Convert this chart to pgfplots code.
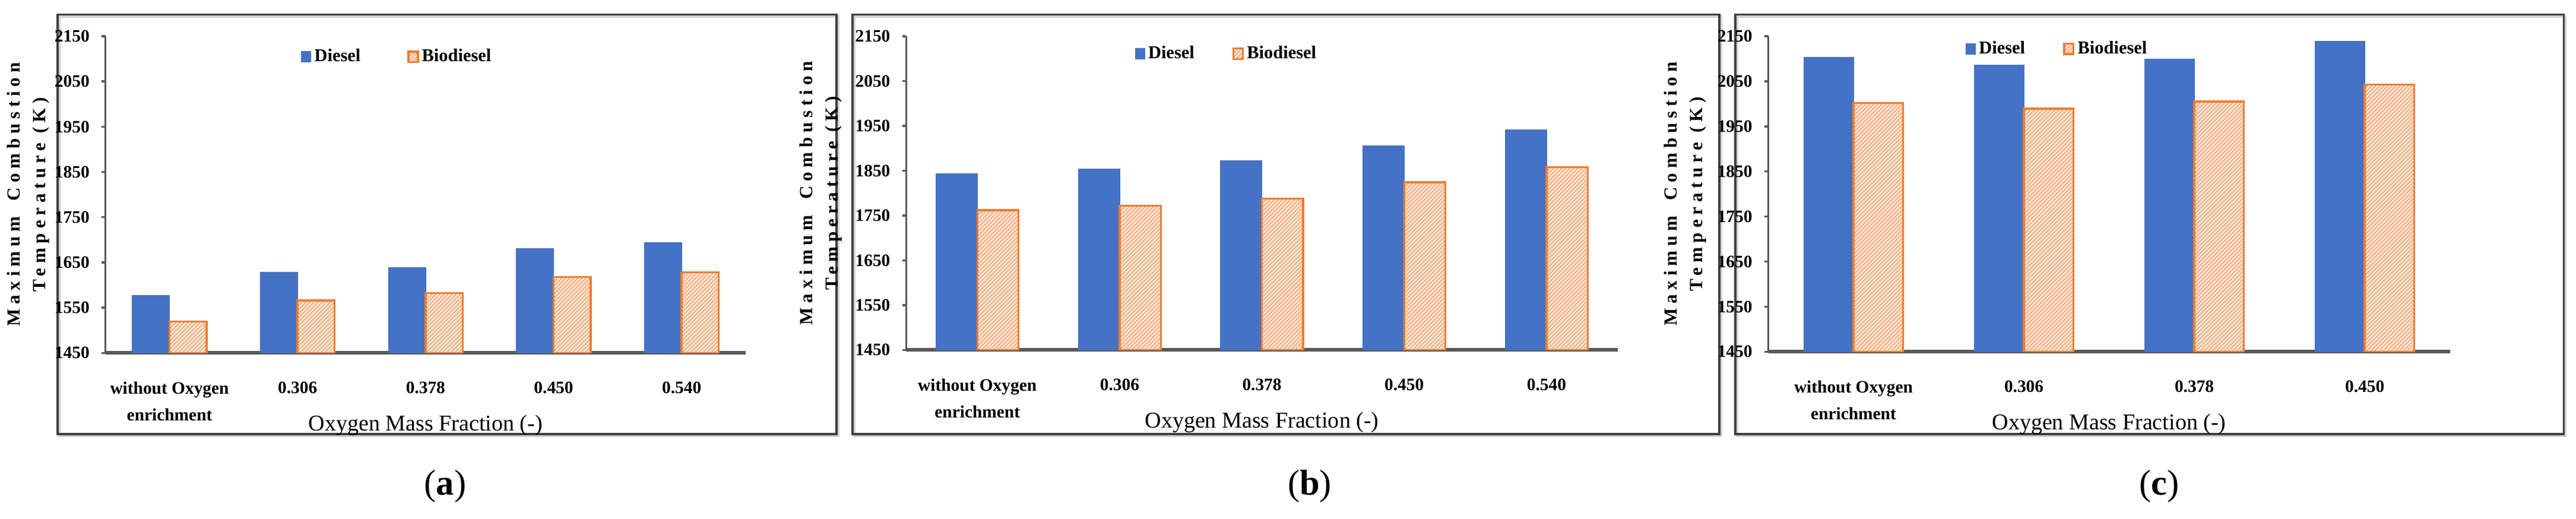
\documentclass[border=0pt]{standalone}
\usepackage{fontspec}
\setmainfont{Liberation Serif}
\newfontfamily\ylabfont[LetterSpace=25]{Liberation Serif}
\usepackage{pgfplots}
\pgfplotsset{compat=1.18}
\usetikzlibrary{patterns.meta}

\definecolor{dieselBlue}{HTML}{4472C4}
\definecolor{bioOr}{HTML}{ED7D31}
\definecolor{axGray}{HTML}{595959}

\pgfplotsset{
  tempbars/.style={
    scale only axis,
    axis lines=left,
    axis line style={-, axGray},
    x axis line style={line width=1.8pt},
    y axis line style={line width=1pt},
    ybar,
    bar width=0.29,
    ymin=1450, ymax=2150,
    ytick={1450,1550,...,2150},
    yticklabels={1450,1550,1650,1750,1850,1950,2050,2150},
    tick align=outside,
    major tick length=0.07cm,
    ytick style={axGray, line width=1pt},
    xtick style={draw=none},
    xtick=data,
    enlarge y limits=false,
    yticklabel style={font=\bfseries\fontsize{8.5}{10}\selectfont, xshift=-0.08cm},
    xticklabel style={font=\bfseries\fontsize{8.5}{10}\selectfont, align=center, anchor=north, yshift=-0.3cm},
    every axis x label/.style={at={(rel axis cs:0.5,0)}, anchor=center, yshift=-1.24cm,
      font=\fontsize{11}{13}\selectfont},
    every axis y label/.style={rotate=90, anchor=center, align=center,
      font=\ylabfont\bfseries\fontsize{9}{10}\selectfont},
    xlabel={Oxygen Mass Fraction (-)},
    ylabel={Maximum\hspace{0.35em} Combustion\\[2.5pt]Temperature (K)},
    legend columns=2,
    legend style={draw=none, fill=none, inner sep=0pt, anchor=west,
      font=\bfseries\fontsize{8.8}{10}\selectfont,
      nodes={inner sep=1.5pt}},
    legend image code/.code={\draw[##1] (0cm,-0.09cm) rectangle (0.16cm,0.09cm);},
  },
  diesel/.style={draw=dieselBlue, fill=dieselBlue, line width=0.4pt, bar shift=-0.145},
  bio/.style={draw=bioOr, line width=1pt, fill=bioOr!18,
    postaction={pattern color=bioOr!80, pattern={Lines[angle=45,distance=1.4pt,line width=0.4pt]}},
    bar shift=0.145},
}

\begin{document}
\begin{tikzpicture}
\path (0,0) rectangle (43.39,8.88);

% panel frames
\foreach \xa/\xb in {0.27/13.61, 13.88/28.72, 29.00/43.18}{
  \draw[gray!35, line width=1.2pt] (\xa+0.03,1.42) rectangle (\xb+0.03,8.60);
  \draw[black!75, line width=1.1pt] (\xa,1.45) rectangle (\xb,8.63);
}

% (a)
\begin{axis}[tempbars, at={(2.19cm,2.84cm)}, anchor=origin,
  width=10.96cm, height=5.42cm,
  xmin=-0.5, xmax=4.5,
  xticklabels={{without Oxygen\\[3pt]enrichment},0.306,0.378,0.450,0.540},
  ylabel style={at={(rel axis cs:-0.121,0.5)}},
  legend style={at={(rel axis cs:0.305,0.935)},
    /tikz/every even column/.append style={column sep=0.75cm}}]
\addplot[diesel] coordinates {(0,1577) (1,1628) (2,1639) (3,1680) (4,1693)};
\addplot[bio] coordinates {(0,1519) (1,1566) (2,1582) (3,1618) (4,1628)};
\legend{Diesel,Biodiesel}
\end{axis}

% (b)
\begin{axis}[tempbars, at={(16.02cm,2.89cm)}, anchor=origin,
  width=12.18cm, height=5.37cm,
  xmin=-0.5, xmax=4.5,
  xticklabels={{without Oxygen\\[3pt]enrichment},0.306,0.378,0.450,0.540},
  ylabel style={at={(rel axis cs:-0.12,0.5)}},
  legend style={at={(rel axis cs:0.321,0.944)},
    /tikz/every even column/.append style={column sep=0.6cm}}]
\addplot[diesel] coordinates {(0,1843) (1,1853) (2,1872) (3,1905) (4,1941)};
\addplot[bio] coordinates {(0,1762) (1,1772) (2,1788) (3,1824) (4,1858)};
\legend{Diesel,Biodiesel}
\end{axis}

% (c)
\begin{axis}[tempbars, at={(31.02cm,2.86cm)}, anchor=origin,
  width=11.67cm, height=5.40cm,
  xmin=-0.5, xmax=3.5,
  xticklabels={{without Oxygen\\[3pt]enrichment},0.306,0.378,0.450},
  ylabel style={at={(rel axis cs:-0.1217,0.5)}},
  legend style={at={(rel axis cs:0.289,0.960)},
    /tikz/every even column/.append style={column sep=0.6cm}}]
\addplot[diesel] coordinates {(0,2103) (1,2086) (2,2099) (3,2138)};
\addplot[bio] coordinates {(0,2002) (1,1989) (2,2005) (3,2043)};
\legend{Diesel,Biodiesel}
\end{axis}

% captions
\foreach \cx/\lab in {6.91/a, 21.71/b, 36.25/c}{
  \node[font=\fontsize{17.5}{20}\selectfont] at (\cx,0.56) {(\textbf{\lab})};
}
\end{tikzpicture}
\end{document}
